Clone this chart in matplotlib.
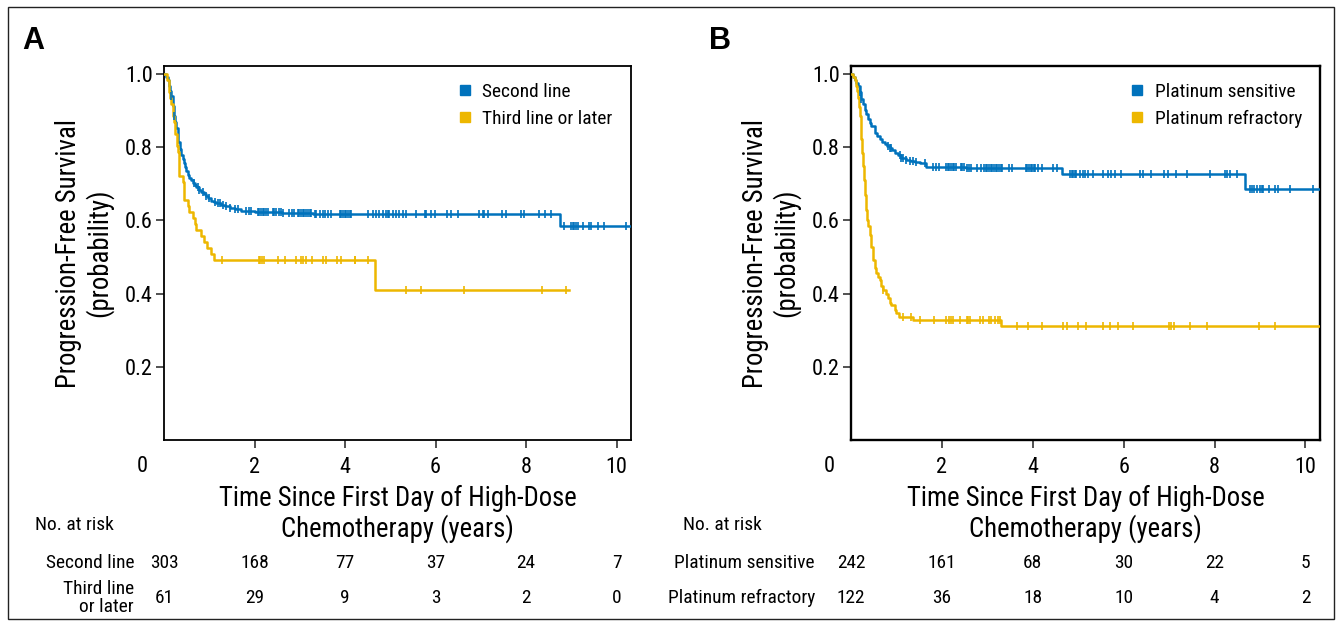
import numpy as np
import matplotlib
matplotlib.use("Agg")
import matplotlib.pyplot as plt
import matplotlib.font_manager as fm
from matplotlib.textpath import TextPath
from matplotlib.lines import Line2D
from matplotlib.patches import Rectangle
from matplotlib.transforms import blended_transform_factory

# ---------------- data ----------------
# Panel A
A_second_t = [0, 0.05, 0.085, 0.12, 0.14, 0.16, 0.19, 0.21, 0.23, 0.25, 0.27, 0.30, 0.32, 0.35,
              0.38, 0.41, 0.44, 0.47, 0.49, 0.53, 0.56, 0.60, 0.64, 0.68, 0.71, 0.77, 0.82, 0.88,
              0.93, 0.98, 1.04, 1.10, 1.15, 1.25, 1.34, 1.45, 1.56, 1.71, 2.0, 2.6, 3.3, 8.75]
A_second_s = [1.0, 0.993, 0.983, 0.967, 0.955, 0.94, 0.913, 0.897, 0.885, 0.868, 0.853, 0.83, 0.813,
              0.795, 0.78, 0.768, 0.758, 0.745, 0.735, 0.725, 0.717, 0.71, 0.703, 0.696, 0.69, 0.684,
              0.678, 0.672, 0.667, 0.66, 0.653, 0.65, 0.647, 0.643, 0.64, 0.635, 0.631, 0.626, 0.624,
              0.621, 0.617, 0.585]
A_second_end = 10.32
A_second_cens = [0.16, 0.23, 0.67, 0.75, 0.78, 0.86, 0.93, 0.99, 1.12, 1.19, 1.23, 1.30, 1.37, 1.45,
                 1.56, 1.63, 1.82, 1.87, 1.93, 2.07, 2.11, 2.15, 2.18, 2.22, 2.26, 2.29, 2.40, 2.44,
                 2.48, 2.55, 2.59, 2.63, 2.77, 2.83, 2.88, 2.96, 2.99, 3.03, 3.07, 3.10, 3.14, 3.18,
                 3.22, 3.25, 3.33, 3.36, 3.44, 3.51, 3.55, 3.62, 3.69, 3.88, 3.92, 3.95, 3.99, 4.03,
                 4.06, 4.10, 4.14, 4.50, 4.61, 4.69, 4.76, 4.84, 4.91, 4.95, 4.98, 5.06, 5.13, 5.20,
                 5.28, 5.35, 5.57, 5.76, 5.80, 5.91, 5.98, 6.26, 6.35, 6.49, 6.97, 7.05, 7.08, 7.15,
                 7.48, 7.56, 7.89, 7.96, 8.28, 8.41, 8.56, 8.85, 9.00, 9.03, 9.07, 9.11, 9.15, 9.26,
                 9.40, 9.44, 9.59, 9.73, 10.21]

A_third_t = [0, 0.07, 0.10, 0.12, 0.14, 0.16, 0.19, 0.23, 0.25, 0.28, 0.31, 0.34, 0.42, 0.44, 0.53,
             0.56, 0.64, 0.68, 0.71, 0.82, 0.88, 0.95, 1.04, 1.10, 4.67]
A_third_s = [1.0, 0.984, 0.967, 0.951, 0.934, 0.918, 0.885, 0.869, 0.836, 0.803, 0.787, 0.721, 0.705,
             0.656, 0.639, 0.623, 0.607, 0.590, 0.574, 0.557, 0.541, 0.525, 0.508, 0.492, 0.410]
A_third_end = 8.96
A_third_cens = [1.29, 2.10, 2.13, 2.17, 2.21, 2.52, 2.68, 2.92, 3.03, 3.08, 3.13, 3.27, 3.51, 3.57,
                3.82, 3.92, 4.21, 4.23, 4.50, 5.35, 5.68, 6.64, 8.35, 8.89]

# Panel B
B_sens_t = [0, 0.05, 0.09, 0.12, 0.16, 0.20, 0.23, 0.27, 0.31, 0.34, 0.38, 0.42, 0.45, 0.52, 0.58,
            0.63, 0.69, 0.74, 0.80, 0.85, 0.90, 0.96, 1.03, 1.11, 1.20, 1.29, 1.40, 1.51, 1.65, 2.53,
            4.64, 8.68]
B_sens_s = [1.0, 0.992, 0.985, 0.975, 0.967, 0.95, 0.931, 0.917, 0.903, 0.89, 0.876, 0.866, 0.858,
            0.84, 0.83, 0.822, 0.815, 0.808, 0.803, 0.799, 0.792, 0.785, 0.778, 0.771, 0.766, 0.762,
            0.759, 0.756, 0.747, 0.742, 0.727, 0.686]
B_sens_end = 10.32
B_sens_cens = [0.20, 0.23, 0.81, 0.85, 0.88, 1.07, 1.11, 1.14, 1.22, 1.29, 1.36, 1.43, 1.62, 1.80,
               1.87, 1.94, 2.09, 2.13, 2.16, 2.20, 2.24, 2.27, 2.31, 2.42, 2.45, 2.49, 2.56, 2.60,
               2.64, 2.78, 2.85, 2.93, 2.96, 3.00, 3.03, 3.07, 3.11, 3.14, 3.18, 3.22, 3.25, 3.29,
               3.33, 3.47, 3.54, 3.84, 3.87, 3.91, 3.95, 3.98, 4.02, 4.05, 4.12, 4.20, 4.45, 4.53,
               4.82, 4.86, 4.89, 4.93, 4.96, 5.04, 5.11, 5.15, 5.22, 5.33, 5.55, 5.66, 5.73, 5.80,
               5.95, 6.35, 6.42, 6.60, 6.89, 6.97, 7.15, 7.40, 7.91, 8.24, 8.28, 8.35, 8.49, 8.78,
               8.82, 8.86, 8.93, 9.00, 9.04, 9.07, 9.19, 9.33, 9.40, 9.66, 10.17]

B_refr_t = [0, 0.05, 0.09, 0.12, 0.14, 0.16, 0.18, 0.20, 0.21, 0.23, 0.25, 0.27, 0.29, 0.31, 0.33,
            0.35, 0.38, 0.41, 0.43, 0.45, 0.49, 0.53, 0.56, 0.60, 0.63, 0.66, 0.70, 0.78, 0.81, 0.85,
            0.89, 0.96, 1.00, 1.05, 1.36, 3.30]
B_refr_s = [1.0, 0.992, 0.984, 0.967, 0.955, 0.935, 0.91, 0.885, 0.85, 0.822, 0.785, 0.749, 0.71,
            0.67, 0.628, 0.601, 0.585, 0.56, 0.54, 0.528, 0.492, 0.47, 0.455, 0.446, 0.437, 0.421,
            0.41, 0.398, 0.387, 0.375, 0.369, 0.355, 0.348, 0.337, 0.328, 0.311]
B_refr_end = 10.32
B_refr_cens = [0.71, 1.14, 1.33, 1.51, 1.83, 2.10, 2.15, 2.20, 2.25, 2.40, 2.55, 2.58, 2.62, 2.83,
               2.90, 3.03, 3.09, 3.17, 3.24, 3.28, 3.65, 3.89, 4.20, 4.67, 4.75, 5.00, 5.18, 5.55,
               5.69, 5.87, 6.20, 7.00, 7.04, 7.11, 7.47, 7.84, 8.97, 9.33]

risk_times = [0, 2, 4, 6, 8, 10]
A_labels = ["Second line", "Third line or later"]
A_risk_labels = ["Second line", "Third line\nor later"]
A_risk = [[303, 168, 77, 37, 24, 7], [61, 29, 9, 3, 2, 0]]
B_labels = ["Platinum sensitive", "Platinum refractory"]
B_risk = [[242, 161, 68, 30, 22, 5], [122, 36, 18, 10, 4, 2]]

BLUE = '#0072BC'
YELLOW = '#EDB700'

# ---------------- font: prefer a narrow / condensed sans ----------------
_names = {f.name for f in fm.fontManager.ttflist}
FAMILY, STRETCH = None, 'normal'
for n in ['Liberation Sans Narrow', 'Roboto Condensed', 'Arial Narrow', 'Nimbus Sans Narrow',
          'Open Sans Condensed', 'Noto Sans Condensed', 'DejaVu Sans Condensed']:
    if n in _names:
        FAMILY = n
        break
if FAMILY is None:
    for pref in ['Roboto', 'Noto Sans', 'Open Sans', 'DejaVu Sans']:
        hits = [f for f in fm.fontManager.ttflist if f.name == pref and f.style == 'normal'
                and str(f.stretch) in ('condensed', 'semi-condensed')]
        if hits:
            FAMILY, STRETCH = pref, str(hits[0].stretch)
            break
if FAMILY is None:
    FAMILY = 'Liberation Sans' if 'Liberation Sans' in _names else 'DejaVu Sans'

plt.rcParams['font.family'] = [FAMILY, 'DejaVu Sans']
plt.rcParams['font.stretch'] = STRETCH
FP = fm.FontProperties(family=[FAMILY, 'DejaVu Sans'], stretch=STRETCH)


def fit(s, target_px, cap):
    w = TextPath((0, 0), s, size=100, prop=FP).get_extents().width
    return min(cap, target_px * 0.72 * 100 / w)


FS_TICK = fit('10', 21, 16)
FS_LABEL = fit('Time Since First Day of High-Dose', 356, 20)
FS_SMALL = (fit('Third line or later', 130, 15) + fit('Platinum refractory', 145, 15)) / 2

# ---------------- figure ----------------
W, H = 1341, 626
fig = plt.figure(figsize=(W / 100, H / 100), dpi=100)


def fx(px):
    return px / W


def fy(py):
    return 1 - py / H


fig.patches.append(Rectangle((fx(8), fy(619)), fx(1334) - fx(8), fy(7) - fy(619),
                             transform=fig.transFigure, fill=False, lw=1.0,
                             edgecolor='#222222'))

axA = fig.add_axes([fx(164), fy(440), (631 - 164) / W, (440 - 66) / H])
axB = fig.add_axes([fx(851), fy(440), (1320 - 851) / W, (440 - 66) / H])


def km(ax, t, s, end, cens, color):
    tt = list(t) + [end]
    ss = list(s) + [s[-1]]
    ax.step(tt, ss, where='post', color=color, lw=1.8, zorder=3)
    ta = np.asarray(t)
    sa = np.asarray(s)
    idx = np.searchsorted(ta, np.asarray(cens), side='right') - 1
    ax.plot(cens, sa[idx], ls='none', marker='|', ms=5.5, mew=1.2, color=color, zorder=4)


def style(ax, spine_lw, zero_px):
    ax.set_xlim(0, 10.32)
    ax.set_ylim(0, 1.022)
    ax.set_xticks([2, 4, 6, 8, 10])
    ax.set_yticks([0.2, 0.4, 0.6, 0.8, 1.0])
    ax.set_yticklabels(['0.2', '0.4', '0.6', '0.8', '1.0'])
    ax.tick_params(axis='both', direction='out', length=6, width=1.1, labelsize=FS_TICK,
                   color='#222222')
    ax.tick_params(axis='x', pad=6)
    ax.tick_params(axis='y', pad=2)
    for sp in ax.spines.values():
        sp.set_linewidth(spine_lw)
        sp.set_color('black')
    ax.set_xlabel('Time Since First Day of High-Dose\nChemotherapy (years)', fontsize=FS_LABEL,
                  labelpad=5.5, linespacing=1.1)
    ax.set_ylabel('Progression-Free Survival\n(probability)', fontsize=FS_LABEL, labelpad=8.5,
                  linespacing=1.1)
    fig.text(fx(zero_px), fy(466), '0', ha='center', va='center', fontsize=FS_TICK)


km(axA, A_second_t, A_second_s, A_second_end, A_second_cens, BLUE)
km(axA, A_third_t, A_third_s, A_third_end, A_third_cens, YELLOW)
km(axB, B_sens_t, B_sens_s, B_sens_end, B_sens_cens, BLUE)
km(axB, B_refr_t, B_refr_s, B_refr_end, B_refr_cens, YELLOW)
style(axA, 1.3, 142)
style(axB, 1.7, 829)


def legend(ax, labels, x):
    handles = [Line2D([], [], ls='none', marker='s', ms=7.5, color=c) for c in (BLUE, YELLOW)]
    ax.legend(handles, labels, loc='upper left', bbox_to_anchor=(x, 0.954), frameon=False,
              fontsize=FS_SMALL, handlelength=0.7, handletextpad=0.55, borderpad=0,
              borderaxespad=0, labelspacing=0.45)


legend(axA, A_labels, 0.630)
legend(axB, B_labels, 0.596)

fig.text(fx(22), fy(41), 'A', fontsize=22, fontweight='bold', family='Liberation Sans',
         ha='left', va='center')
fig.text(fx(709), fy(41), 'B', fontsize=22, fontweight='bold', family='Liberation Sans',
         ha='left', va='center')


def risk_table(ax, title_x, label_x, labels, rows):
    fig.text(fx(title_x), fy(525), 'No. at risk', fontsize=FS_SMALL, ha='left', va='center')
    tr = blended_transform_factory(ax.transData, fig.transFigure)
    for lab, row, ypx in zip(labels, rows, (563, 598)):
        fig.text(fx(label_x), fy(ypx), lab, fontsize=FS_SMALL, ha='right', va='center',
                 multialignment='right', linespacing=1.05)
        for t, n in zip(risk_times, row):
            ax.text(t, fy(ypx), str(n), transform=tr, fontsize=FS_SMALL, ha='center',
                    va='center', clip_on=False)


risk_table(axA, 35, 134, A_risk_labels, A_risk)
risk_table(axB, 683, 815, B_labels, B_risk)

fig.savefig('out.png', dpi=100)
